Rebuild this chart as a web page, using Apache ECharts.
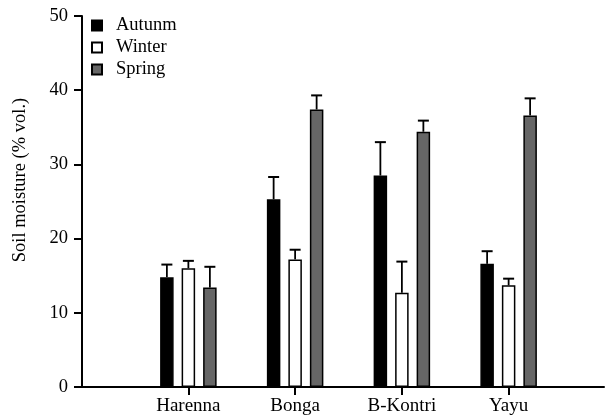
<!DOCTYPE html>
<html>
<head>
<meta charset="utf-8">
<script src="https://cdn.jsdelivr.net/npm/echarts@6/dist/echarts.min.js"></script>
<style>
  html, body { margin: 0; padding: 0; background: #fff; }
  #chart { width: 605px; height: 415px; }
</style>
</head>
<body>
<div id="chart"></div>
<script>
// Sites and seasonal soil moisture (% vol.), mean and SD
const sites = ['Harenna', 'Bonga', 'B-Kontri', 'Yayu'];
const seasons = ['Autunm', 'Winter', 'Spring'];

const autumn = [14.8, 25.3, 28.5, 16.6];
const autumnSd = [1.7, 3.0, 4.5, 1.7];
const winter = [16.0, 17.2, 12.7, 13.7];
const winterSd = [1.0, 1.3, 4.2, 0.9];
const spring = [13.4, 37.4, 34.4, 36.6];
const springSd = [2.8, 1.9, 1.5, 2.3];

const yTicks = [0, 10, 20, 30, 40, 50];

const FONT = 'Liberation Serif';
const FS = 18.5;
const colors = ['#000000', '#ffffff', '#666666'];
const BAR_W = 13.5;
const BAR_GAP = 8;

const means = [autumn, winter, spring];
const sds = [autumnSd, winterSd, springSd];

const chart = echarts.init(document.getElementById('chart'), null, { renderer: 'canvas' });

const barSeries = seasons.map((name, k) => ({
  name: name,
  type: 'bar',
  xAxisIndex: 0,
  yAxisIndex: 0,
  data: means[k],
  barWidth: BAR_W,
  barGap: (BAR_GAP / BAR_W * 100) + '%',
  itemStyle: { color: colors[k], borderColor: '#000', borderWidth: 1.5 },
  emphasis: { disabled: true },
  z: 2
}));

// Upper error whiskers drawn beside each bar of the group
const errSeries = seasons.map((name, k) => ({
  name: name + ' SD',
  type: 'custom',
  xAxisIndex: 0,
  yAxisIndex: 0,
  data: means[k].map((v, i) => [i, v, sds[k][i]]),
  renderItem: function (params, api) {
    const i = api.value(0);
    const base = api.coord([i, api.value(1)]);
    const top = api.coord([i, api.value(1) + api.value(2)]);
    const dx = (k - 1) * (BAR_W + BAR_GAP);
    const x = base[0] + dx;
    const half = 5.5;
    return {
      type: 'group',
      children: [
        { type: 'line', shape: { x1: x, y1: base[1], x2: x, y2: top[1] },
          style: { stroke: '#000', lineWidth: 1.8 } },
        { type: 'line', shape: { x1: x - half, y1: top[1], x2: x + half, y2: top[1] },
          style: { stroke: '#000', lineWidth: 2 } }
      ]
    };
  },
  z: 1,
  silent: true
}));

const option = {
  animation: false,
  backgroundColor: '#fff',
  textStyle: { fontFamily: FONT, color: '#000' },
  legend: {
    data: seasons,
    orient: 'vertical',
    left: 86,
    top: 11,
    itemWidth: 10,
    itemHeight: 10,
    itemGap: 3,
    icon: 'rect',
    selectedMode: false,
    textStyle: { fontFamily: FONT, fontSize: FS, color: '#000', padding: [0, 0, 0, 9] }
  },
  grid: [
    { left: 135, right: 43, top: 16, bottom: 28, outerBoundsMode: 'none', containLabel: false },
    { left: 82, right: 1, top: 16, bottom: 28, outerBoundsMode: 'none', containLabel: false }
  ],
  xAxis: [
    {
      type: 'category',
      gridIndex: 0,
      data: sites,
      axisLine: { show: false },
      axisTick: { show: true, alignWithLabel: true, length: 8, lineStyle: { color: '#000', width: 2 } },
      axisLabel: { fontFamily: FONT, fontSize: 19, color: '#000', margin: 10 },
      splitLine: { show: false }
    },
    {
      type: 'value',
      gridIndex: 1,
      min: 0,
      max: 1,
      axisLine: { show: true, lineStyle: { color: '#000', width: 2 } },
      axisTick: { show: false },
      axisLabel: { show: false },
      splitLine: { show: false }
    }
  ],
  yAxis: [
    {
      type: 'value',
      gridIndex: 0,
      min: yTicks[0],
      max: yTicks[yTicks.length - 1],
      interval: yTicks[1] - yTicks[0],
      offset: 53,
      name: 'Soil moisture (% vol.)',
      nameLocation: 'middle',
      nameGap: 52,
      nameTextStyle: { fontFamily: FONT, fontSize: FS, color: '#000', padding: [0, 0, 0, 43] },
      axisLine: { show: true, lineStyle: { color: '#000', width: 2 } },
      axisTick: { show: true, length: 8, lineStyle: { color: '#000', width: 2 } },
      axisLabel: { fontFamily: FONT, fontSize: FS, color: '#000', margin: 14 },
      splitLine: { show: false }
    },
    {
      type: 'value',
      gridIndex: 1,
      show: false
    }
  ],
  series: [...barSeries, ...errSeries]
};

chart.setOption(option);
</script>
</body>
</html>
